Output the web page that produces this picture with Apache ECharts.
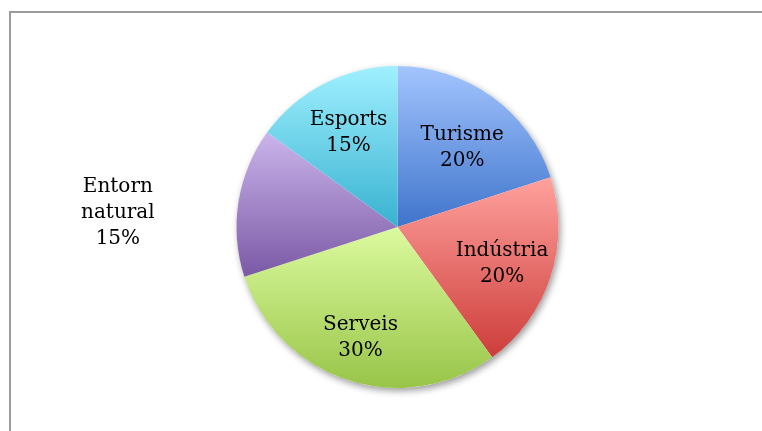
<!DOCTYPE html>
<html>
<head>
<meta charset="utf-8">
<script src="https://cdn.jsdelivr.net/npm/echarts@6/dist/echarts.min.js"></script>
<style>html,body{margin:0;padding:0;background:#fff}#c{width:762px;height:431px}</style>
</head>
<body>
<div id="c"></div>
<script>
const categories = ['Turisme', 'Indústria', 'Serveis', 'Entorn natural', 'Esports'];
const labelLines = ['Turisme', 'Indústria', 'Serveis', 'Entorn\nnatural', 'Esports'];
const values = [20, 20, 30, 15, 15];
const topColors = ['#a3c5fe', '#ffa19d', '#dcfa9f', '#cbb5ec', '#a0f0ff'];
const bottomColors = ['#3f74cc', '#cd3d3a', '#98c548', '#7a59a5', '#38b2d0'];

const chart = echarts.init(document.getElementById('c'));
const center = [397.5, 227];
const R = 161;
const total = values.reduce((a, b) => a + b, 0);

const pieData = categories.map((name, i) => ({
  name, value: values[i],
  itemStyle: {
    color: new echarts.graphic.LinearGradient(0, 0, 0, 1, [
      {offset: 0, color: topColors[i]}, {offset: 1, color: bottomColors[i]}
    ])
  }
}));

const labelOffsets = {'Turisme': [0, 10], 'Indústria': [0, 3], 'Serveis': [-3, 6], 'Entorn natural': [-171, 3], 'Esports': [1, 4]};
const labelData = categories.map((name, i) => ({
  name, value: values[i],
  label: {
    formatter: labelLines[i] + '\n' + values[i] + '%',
    offset: labelOffsets[name] || [0, 0]
  }
}));

chart.setOption({
  animation: false,
  graphic: [{
    type: 'rect', silent: true,
    shape: {x: 10, y: 12, width: 900, height: 600},
    style: {fill: 'none', stroke: '#9c9c9c', lineWidth: 2}
  }],
  series: [
    {
      type: 'pie', silent: true, center, radius: R,
      data: [{value: total}],
      label: {show: false}, labelLine: {show: false},
      itemStyle: {color: '#ffffff', shadowBlur: 7, shadowOffsetX: 2, shadowOffsetY: 3, shadowColor: 'rgba(0,0,0,0.4)'}
    },
    {
      type: 'pie', silent: true, center, radius: R,
      startAngle: 90, clockwise: true,
      data: pieData,
      label: {show: false}, labelLine: {show: false},
      itemStyle: {borderWidth: 0}
    },
    {
      type: 'pie', silent: true, center, radius: 214,
      startAngle: 90, clockwise: true,
      data: labelData,
      itemStyle: {color: 'rgba(0,0,0,0)'},
      labelLine: {show: false},
      label: {
        show: true, position: 'inside',
        fontFamily: 'DejaVu Serif', fontSize: 20, lineHeight: 26,
        color: '#000', align: 'center'
      }
    }
  ]
});
</script>
</body>
</html>
